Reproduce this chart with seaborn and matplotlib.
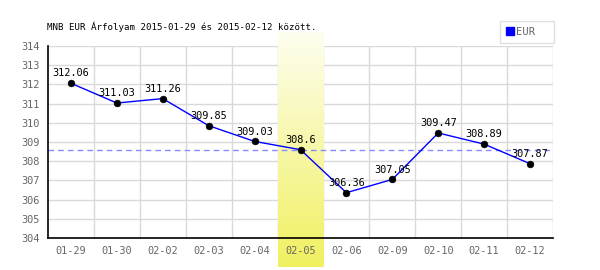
import numpy as np
import matplotlib
matplotlib.use("Agg")
import matplotlib.pyplot as plt
import seaborn as sns
import pandas as pd
from matplotlib.lines import Line2D
from matplotlib.colors import LinearSegmentedColormap

dates = ["01-29", "01-30", "02-02", "02-03", "02-04", "02-05", "02-06", "02-09", "02-10", "02-11", "02-12"]
rates = [312.06, 311.03, 311.26, 309.85, 309.03, 308.6, 306.36, 307.05, 309.47, 308.89, 307.87]
labels = ["312.06", "311.03", "311.26", "309.85", "309.03", "308.6", "306.36", "307.05", "309.47", "308.89", "307.87"]
highlight_idx = 5
y_ticks = [304, 305, 306, 307, 308, 309, 310, 311, 312, 313, 314]
title = "MNB EUR Árfolyam 2015-01-29 és 2015-02-12 között."
series_name = "EUR"

sns.set_style("white")
plt.rcParams['font.family'] = ['DejaVu Sans Mono', 'DejaVu Sans']

fig = plt.figure(figsize=(6, 2.7), dpi=100)
ax = fig.add_axes([48/600, 32/270, 505/600, 192/270])

df = pd.DataFrame({"x": np.arange(len(dates)), "rate": rates})

# grid
for xv in np.arange(0.5, len(dates) - 0.5 + 0.01, 1.0):
    ax.axvline(xv, color="#d9d9d9", lw=1, zorder=0)
for yv in y_ticks[1:]:
    ax.axhline(yv, color="#d9d9d9", lw=1, zorder=0)

# highlight band (gradient)
cmap = LinearSegmentedColormap.from_list("hl", ["#fefef0", "#f0f060"])
grad = np.linspace(0, 1, 256).reshape(-1, 1)
ax.imshow(grad, cmap=cmap, aspect="auto",
          extent=(highlight_idx - 0.5, highlight_idx + 0.5, 302.48, 314.68),
          origin="upper", clip_on=False, zorder=0.5)
ax.set_xlim(-0.5, len(dates) - 0.5)
ax.set_ylim(304, 314)

# reference dashed line at highlighted value
ax.axhline(rates[highlight_idx], color="#8888ff", lw=1, ls=(0, (4, 3)), zorder=1)

sns.lineplot(data=df, x="x", y="rate", ax=ax, color="#0000ff", lw=1, zorder=2, legend=False)
sns.scatterplot(data=df, x="x", y="rate", ax=ax, color="black", s=24, edgecolor="black", zorder=3, legend=False)

for i, (r, lab) in enumerate(zip(rates, labels)):
    ax.annotate(lab, (i, r), xytext=(0, 3.5), textcoords="offset points",
                ha="center", va="bottom", fontsize=7.4, color="black", zorder=4)

ax.set_xticks(np.arange(len(dates)))
ax.set_xticklabels(dates)
ax.set_yticks(y_ticks)
ax.tick_params(axis="both", labelsize=7.4, labelcolor="#666666")
ax.tick_params(axis="x", length=0, pad=6)
ax.tick_params(axis="y", length=3, color="black", width=1, pad=3, direction="out")
ax.set_xlabel("")
ax.set_ylabel("")

for s in ["top", "right"]:
    ax.spines[s].set_visible(False)
for s in ["left", "bottom"]:
    ax.spines[s].set_color("black")
    ax.spines[s].set_linewidth(1.2)

fig.text(47/600, 1 - 27/270, title, fontsize=6.6, color="black", ha="left", va="center")

handle = Line2D([], [], marker="s", color="#0000ff", ls="", markersize=6)
leg = fig.legend([handle], [series_name + "  "], loc="upper right", bbox_to_anchor=(554/600, 1 - 21/270),
                 fontsize=7.6, frameon=True, fancybox=False, handlelength=0.7,
                 handletextpad=0.25, borderpad=0.55, borderaxespad=0,
                 labelcolor="#666666")
leg.get_frame().set_edgecolor("#d9d9d9")
leg.get_frame().set_linewidth(1)

fig.savefig("out.png", dpi=100)
